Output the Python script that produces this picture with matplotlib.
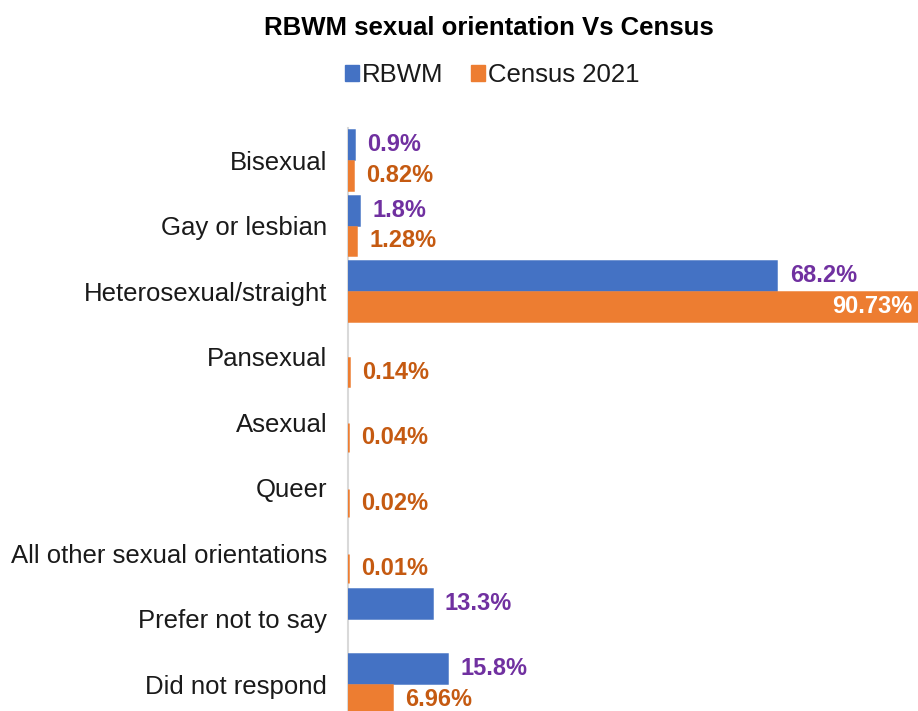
import matplotlib.pyplot as plt
import numpy as np
from matplotlib.patches import Patch

categories = ['Bisexual', 'Gay or lesbian', 'Heterosexual/straight', 'Pansexual',
              'Asexual', 'Queer', 'All other sexual orientations',
              'Prefer not to say', 'Did not respond']
rbwm = [0.9, 1.8, 68.2, np.nan, np.nan, np.nan, np.nan, 13.3, 15.8]
census = [0.82, 1.28, 90.73, 0.14, 0.04, 0.02, 0.01, np.nan, 6.96]
rbwm_labels = ['0.9%', '1.8%', '68.2%', '', '', '', '', '13.3%', '15.8%']
census_labels = ['0.82%', '1.28%', '90.73%', '0.14%', '0.04%', '0.02%', '0.01%', '', '6.96%']

blue = '#4472C4'
orange = '#ED7D31'
purple = '#7030A0'
brown = '#C55A11'

plt.rcParams['font.family'] = ['Liberation Sans', 'DejaVu Sans']

fig = plt.figure(figsize=(9.18, 7.11), dpi=100)
ax = fig.add_axes([348 / 918, 0, 1 - 348 / 918, (711 - 128) / 711])

y = np.arange(len(categories))
h = 0.44
off = 0.235
# thin edge so tiny values still show as a sliver, like Excel does
ax.barh(y - off, rbwm, height=h, color=blue, edgecolor=blue, linewidth=1.8, zorder=3)
ax.barh(y + off, census, height=h, color=orange, edgecolor=orange, linewidth=1.8, zorder=3)

for i in range(len(categories)):
    if rbwm_labels[i]:
        ax.annotate(rbwm_labels[i], (rbwm[i], y[i] - off), xytext=(9.5, 0),
                    textcoords='offset points', va='center', ha='left',
                    fontsize=17, fontweight='bold', color=purple)
    if census_labels[i]:
        if census[i] > 80:
            ax.annotate(census_labels[i], (census[i], y[i] + off), xytext=(-4, 0),
                        textcoords='offset points', va='center', ha='right',
                        fontsize=17, fontweight='bold', color='white', zorder=4)
        else:
            ax.annotate(census_labels[i], (census[i], y[i] + off), xytext=(9.5, 0),
                        textcoords='offset points', va='center', ha='left',
                        fontsize=17, fontweight='bold', color=brown)

ax.set_xlim(0, 90.73)
ax.set_ylim(8.41, -0.49)
ax.set_yticks(y)
ax.set_yticklabels(categories, fontsize=18.5, color='#1a1a1a')
ax.tick_params(axis='y', length=0, pad=15)
ax.set_xticks([])
for s in ['top', 'right', 'bottom']:
    ax.spines[s].set_visible(False)
ax.spines['left'].set_color('#d9d9d9')
ax.spines['left'].set_linewidth(1.5)
ax.spines['left'].set_zorder(2)

fig.text(0.532, 1 - 28 / 711, 'RBWM sexual orientation Vs Census', ha='center', va='center',
         fontsize=18.5, fontweight='bold')
handles = [Patch(color=blue, label='RBWM'), Patch(color=orange, label='Census 2021')]
fig.legend(handles=handles, loc='center', bbox_to_anchor=(0.536, 1 - 75 / 711), ncol=2,
           frameon=False, fontsize=18.5, handlelength=0.55, handleheight=0.55,
           handletextpad=0.12, columnspacing=1.05, labelcolor='#1a1a1a')

fig.savefig('out.png', dpi=100)
